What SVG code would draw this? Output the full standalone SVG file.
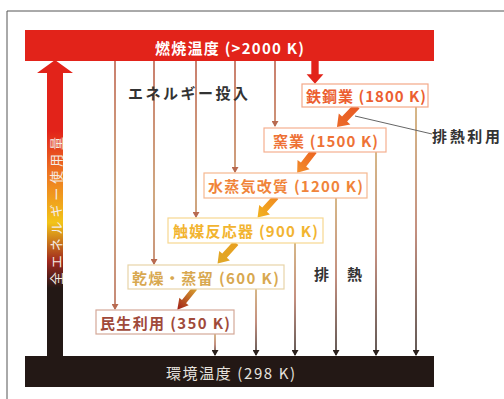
<svg xmlns="http://www.w3.org/2000/svg" xmlns:xlink="http://www.w3.org/1999/xlink" width="504" height="399" viewBox="0 0 504 399">
<style>
text{font-family:"Noto Sans CJK JP","Liberation Sans",sans-serif;font-weight:bold;dominant-baseline:central;}
.lbl{font-size:15px;}
.reg{font-weight:normal;}
.box{fill:#fff;stroke-width:1.2;}
.thin{fill:none;stroke-width:1.5;}
</style>
<defs>
<linearGradient id="bigArrow" gradientUnits="userSpaceOnUse" x1="0" y1="60" x2="0" y2="356">
<stop offset="0" stop-color="#e2231a"/>
<stop offset="0.24" stop-color="#e2231a"/>
<stop offset="0.39" stop-color="#ee7a22"/>
<stop offset="0.55" stop-color="#f2c418"/>
<stop offset="0.68" stop-color="#a0281e"/>
<stop offset="0.77" stop-color="#231815"/>
<stop offset="1" stop-color="#231815"/>
</linearGradient>
<linearGradient id="lineIn" gradientUnits="userSpaceOnUse" x1="0" y1="61" x2="0" y2="330">
<stop offset="0" stop-color="#b8553e"/>
<stop offset="0.5" stop-color="#c08a55"/>
<stop offset="1" stop-color="#b05a48"/>
</linearGradient>
<linearGradient id="lineOut" gradientUnits="objectBoundingBox" x1="0" y1="0" x2="0" y2="1">
<stop offset="0" stop-color="#c9a060"/>
<stop offset="0.5" stop-color="#b06a55"/>
<stop offset="1" stop-color="#2a201c"/>
</linearGradient>
<linearGradient id="g1" x1="0" y1="0" x2="1" y2="0"><stop offset="0" stop-color="#e85a24"/><stop offset="1" stop-color="#ec6a28"/></linearGradient>
<linearGradient id="g2" x1="0" y1="0" x2="1" y2="0"><stop offset="0" stop-color="#ec6420"/><stop offset="1" stop-color="#f3902c"/></linearGradient>
<linearGradient id="g3" x1="0" y1="0" x2="1" y2="0"><stop offset="0" stop-color="#f08a22"/><stop offset="1" stop-color="#f2b41e"/></linearGradient>
<linearGradient id="g4" x1="0" y1="0" x2="1" y2="0"><stop offset="0" stop-color="#e8a020"/><stop offset="1" stop-color="#e0a828"/></linearGradient>
<linearGradient id="g5" x1="0" y1="0" x2="1" y2="0"><stop offset="0" stop-color="#d8a030"/><stop offset="1" stop-color="#a01e18"/></linearGradient>
<path id="fat" d="M0,-3.5 L18,-3.5 L18,-8 L29,0 L18,8 L18,3.5 L0,3.5 Z"/>
<marker id="mIn" markerUnits="userSpaceOnUse" markerWidth="6" markerHeight="7" refX="5" refY="3.5" orient="auto"><path d="M0,0 L6,3.5 L0,7 Z" fill="#b86a50"/></marker>
<marker id="mOut" markerUnits="userSpaceOnUse" markerWidth="6" markerHeight="7" refX="5" refY="3.5" orient="auto"><path d="M0,0 L6,3.5 L0,7 Z" fill="#2a201c"/></marker>
</defs>

<rect width="504" height="399" fill="#fff"/>
<path d="M7,399 V11 H504" fill="none" stroke="#555" stroke-width="1"/>

<g id="connectors">
<g stroke="url(#lineIn)" class="thin" marker-end="url(#mIn)">
<line x1="115" y1="61" x2="115" y2="309"/>
<line x1="154" y1="61" x2="154" y2="264"/>
<line x1="196" y1="61" x2="196" y2="217"/>
<line x1="235" y1="61" x2="235" y2="172"/>
<line x1="275" y1="61" x2="275" y2="126"/>
</g>
<g class="thin" marker-end="url(#mOut)">
<path d="M215,334 L215.01,355" stroke="url(#lineOut)"/>
<path d="M256,289 L256.01,355" stroke="url(#lineOut)"/>
<path d="M295,243 L295.01,355" stroke="url(#lineOut)"/>
<path d="M336,198 L336.01,355" stroke="url(#lineOut)"/>
<path d="M376,152 L376.01,355" stroke="url(#lineOut)"/>
<path d="M416,107 L416.01,355" stroke="url(#lineOut)"/>
</g>
<line x1="355" y1="116" x2="432" y2="134" stroke="#666" stroke-width="1"/>
<use xlink:href="#fat" transform="translate(315,59) rotate(90) scale(0.85,1.05)" fill="#e2231a"/>
<use xlink:href="#fat" transform="translate(357,106) rotate(133.7)" fill="url(#g1)"/>
<use xlink:href="#fat" transform="translate(314,151) rotate(127.7) scale(0.95,0.95)" fill="url(#g2)"/>
<use xlink:href="#fat" transform="translate(276,197) rotate(132) scale(0.95,0.9)" fill="url(#g3)"/>
<use xlink:href="#fat" transform="translate(236,243) rotate(132) scale(0.95,0.9)" fill="url(#g4)"/>
<use xlink:href="#fat" transform="translate(195,288) rotate(129) scale(0.97,0.75)" fill="url(#g5)"/>
</g>

<g id="combustion">
<rect x="25" y="30" width="409" height="31" fill="#e2231a"/>
<text class="lbl" x="155" y="47" textLength="149" lengthAdjust="spacing" fill="#fff">燃焼温度 (&gt;2000 K)</text>
</g>
<g id="ambient">
<rect x="25" y="356" width="409" height="31" fill="#231815"/>
<text class="lbl reg" x="166" y="372" textLength="129" lengthAdjust="spacing" fill="#e6e2de">環境温度 (298 K)</text>
</g>
<g id="total-energy">
<path d="M55,60 L73,73 L63,73 L63,357 L47,357 L47,73 L37,73 Z" fill="url(#bigArrow)"/>
<text class="reg" x="0" y="0" font-size="13" textLength="148" lengthAdjust="spacing" fill="#f4ece6" transform="translate(55,285) rotate(-90)">全エネルギー使用量</text>
</g>

<g id="steel">
<rect class="box" x="302" y="84" width="126" height="23" stroke="#f4a888"/>
<text class="lbl" x="306" y="95.5" textLength="120" lengthAdjust="spacing" fill="#ec5e30">鉄鋼業 (1800 K)</text>
</g>
<g id="ceramics">
<rect class="box" x="264" y="128" width="122" height="24" stroke="#f5b090"/>
<text class="lbl" x="273" y="140" textLength="105" lengthAdjust="spacing" fill="#ee7236">窯業 (1500 K)</text>
</g>
<g id="steam-reforming">
<rect class="box" x="204" y="173" width="163" height="25" stroke="#f6b890"/>
<text class="lbl" x="208" y="185.5" textLength="155" lengthAdjust="spacing" fill="#f0843a">水蒸気改質 (1200 K)</text>
</g>
<g id="catalytic-reactor">
<rect class="box" x="168" y="218" width="155" height="25" stroke="#f7d890"/>
<text class="lbl" x="173" y="230.5" textLength="145" lengthAdjust="spacing" fill="#f2b430">触媒反応器 (900 K)</text>
</g>
<g id="drying">
<rect class="box" x="128" y="265" width="156" height="24" stroke="#e8d4a8"/>
<text class="lbl" x="132" y="277" textLength="147" lengthAdjust="spacing" fill="#d8a850">乾燥・蒸留 (600 K)</text>
</g>
<g id="residential">
<rect class="box" x="96" y="310" width="138" height="24" stroke="#d4a898"/>
<text class="lbl" x="100" y="322" textLength="130" lengthAdjust="spacing" fill="#a04a3a">民生利用 (350 K)</text>
</g>

<g id="labels">
<text class="lbl" x="128" y="92" textLength="120" lengthAdjust="spacing" fill="#333">エネルギー投入</text>
<text class="lbl" x="432" y="135" textLength="68" lengthAdjust="spacing" fill="#333">排熱利用</text>
<text class="lbl" x="314" y="273" fill="#333">排</text>
<text class="lbl" x="347" y="273" fill="#333">熱</text>
</g>
</svg>
